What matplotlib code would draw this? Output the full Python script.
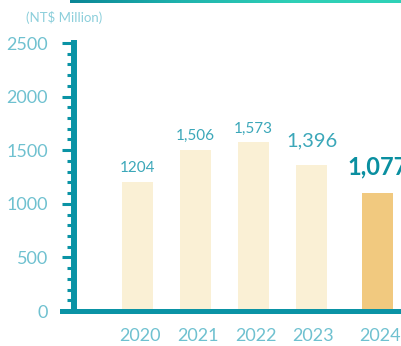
import matplotlib
matplotlib.use("Agg")
import matplotlib.pyplot as plt
import numpy as np
from matplotlib.colors import LinearSegmentedColormap
from matplotlib.ticker import MultipleLocator
import matplotlib.transforms as mtransforms

years = ["2020", "2021", "2022", "2023", "2024"]
bar_values = [1204, 1506, 1573, 1362, 1103]
value_labels = ["1204", "1,506", "1,573", "1,396", "1,077"]
positions = [0, 1, 2, 3, 4.14]
unit_label = "(NT$ Million)"

W, H = 402, 346
fig = plt.figure(figsize=(W / 100, H / 100), dpi=100)
plt.rcParams['font.family'] = ['Lato', 'DejaVu Sans']

axis_col = "#0a93a5"
tick_col = "#6fc1d0"
val_col = "#3ba7b9"

ax = fig.add_axes([74 / W, (H - 311) / H, (W - 74) / W, 268 / H])
colors = ["#faf0d5"] * 4 + ["#f1c97f"]
ax.bar(positions, bar_values, width=0.53, color=colors, zorder=2)
ax.set_xlim(-1.095, -1.095 + 328 / 58)
ax.set_ylim(0, 2500)

for s in ["top", "right"]:
    ax.spines[s].set_visible(False)
ax.spines["left"].set_color(axis_col)
ax.spines["left"].set_linewidth(4.3)
ax.spines["bottom"].set_color(axis_col)
ax.spines["bottom"].set_linewidth(3.6)
ax.spines["bottom"].set_bounds(-1.095 - 12 / 58, 10)

ax.yaxis.set_major_locator(MultipleLocator(500))
ax.yaxis.set_minor_locator(MultipleLocator(100))
ax.tick_params(axis="y", which="major", length=8.6, width=2.2, color=axis_col,
               labelcolor=tick_col, labelsize=13, pad=10)
ax.tick_params(axis="y", which="minor", length=5.2, width=2.2, color=axis_col)
ax.set_xticks(positions)
ax.set_xticklabels(years)
ax.tick_params(axis="x", length=0, labelcolor=tick_col, labelsize=13, pad=12)
offset = mtransforms.ScaledTranslation(2 / 100, 0, fig.dpi_scale_trans)
for lbl in ax.get_xticklabels():
    lbl.set_transform(lbl.get_transform() + offset)

styles = [
    dict(size=11, weight="normal", color=val_col, off=5),
    dict(size=11, weight="normal", color=val_col, off=5),
    dict(size=11, weight="normal", color=val_col, off=5),
    dict(size=14.5, weight="normal", color=val_col, off=11),
    dict(size=17, weight="bold", color="#0a8fa0", off=10),
]
for p, v, t, st in zip(positions, bar_values, value_labels, styles):
    ax.annotate(t, (p, v), xytext=(0, st["off"]), textcoords="offset points",
                ha="center", va="bottom", fontsize=st["size"],
                fontweight=st["weight"], color=st["color"], annotation_clip=False)

fig.text(64 / W, 1 - 18 / H, unit_label, ha="center", va="center",
         fontsize=9.5, color="#8ccfdb")

gax = fig.add_axes([70 / W, 1 - 3 / H, (W - 70) / W, 3 / H])
cmap = LinearSegmentedColormap.from_list("g", ["#0a8696", "#1fb3ad", "#2ecfb6", "#30d2b8"])
gax.imshow(np.linspace(0, 1, 256)[None, :], aspect="auto", cmap=cmap)
gax.set_axis_off()

fig.savefig("out.png", dpi=100)
